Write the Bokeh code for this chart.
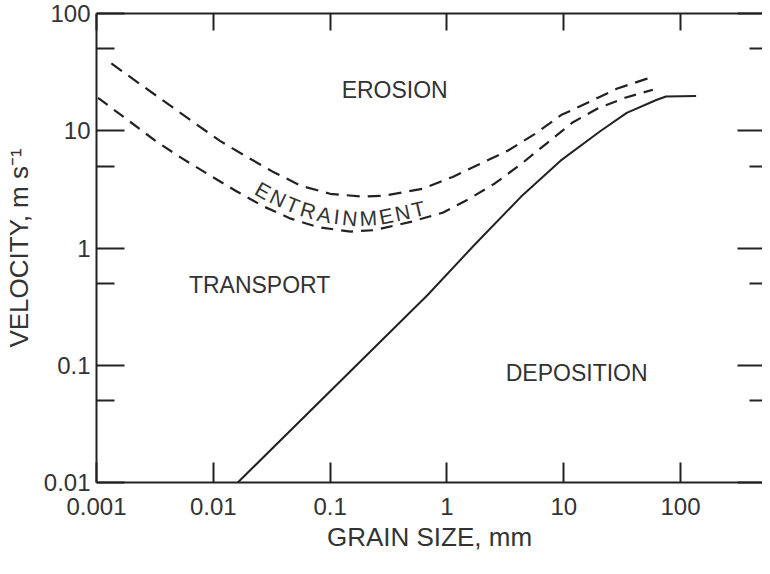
import numpy as np
from bokeh.plotting import figure
from bokeh.models import Range1d, LogAxis, FixedTicker, CustomJSTickFormatter
from bokeh.core.properties import value
from bokeh.embed import file_html
from bokeh.resources import INLINE

# ---- data ----
x_ticks = [0.001, 0.01, 0.1, 1, 10, 100]
y_ticks = [0.01, 0.1, 1, 10, 100]
y_minor = [0.05, 0.5, 5, 50]

# deposition boundary (solid)
deposition_grain = [0.0162, 0.68, 1.7, 4.3, 9.4, 20.5, 34.6, 62, 75, 136]
deposition_vel = [0.01, 0.395, 1.05, 2.73, 5.56, 9.9, 14.2, 18.3, 19.6, 19.8]

# erosion boundary (upper dashed)
erosion_grain = [0.00134, 0.0025, 0.0045, 0.0067, 0.0114, 0.0193, 0.032, 0.056, 0.1,
                 0.19, 0.294, 0.622, 1.12, 1.98, 3.34, 5.63, 9.48, 16.6, 28.4, 51, 58]
erosion_vel = [37.5, 24, 15.8, 11.9, 8.2, 6.0, 4.5, 3.4, 2.9,
               2.74, 2.8, 3.2, 4.04, 5.3, 6.78, 9.35, 13.6, 17.6, 22.8, 27.7, 28.3]

# entrainment lower boundary (lower dashed)
entrain_grain = [0.00103, 0.00188, 0.0032, 0.005, 0.009, 0.0155, 0.027, 0.046, 0.08, 0.15,
                 0.24, 0.5, 0.92, 1.52, 2.57, 4.28, 7.2, 11.8, 19.5, 33.5, 58]
entrain_vel = [19.1, 12.2, 8.2, 6.1, 4.26, 3.08, 2.26, 1.78, 1.5, 1.38,
               1.42, 1.68, 2.0, 2.6, 3.55, 5.17, 7.85, 11.7, 15.5, 19.1, 22.4]

region_labels = ["EROSION", "TRANSPORT", "DEPOSITION"]
region_grain = [0.357, 0.0249, 12.9]
region_vel = [22.3, 0.479, 0.0853]

entrain_word = "ENTRAINMENT"
entrain_span = [0.0266, 0.57]
letter_em = [0.667, 0.722, 0.611, 0.722, 0.667, 0.278, 0.722, 0.833, 0.667, 0.722, 0.611]

# ---- figure ----
FONT = "Liberation Sans"
TXT = "#333333"
INK = "#222222"
W, H = 762, 566
BL, BR, BT, BB = 92, 0, 13, 84
x_lo, x_hi = 0.001, 503
y_lo, y_hi = 0.01, 100

p = figure(width=W, height=H, x_axis_type="log", y_axis_type="log",
           x_range=Range1d(x_lo, x_hi), y_range=Range1d(y_lo, y_hi),
           output_backend="svg", toolbar_location=None,
           min_border_left=BL, min_border_right=BR, min_border_top=BT, min_border_bottom=BB)
p.grid.visible = False
p.outline_line_color = None
p.background_fill_color = "white"
p.border_fill_color = "white"

fmt = CustomJSTickFormatter(code="return tick.toString();")

xa = p.xaxis[0]
xa.ticker = FixedTicker(ticks=x_ticks, minor_ticks=[])
xa.formatter = fmt
xa.major_tick_in = 20
xa.major_tick_out = 0
xa.minor_tick_in = 0
xa.minor_tick_out = 0
xa.axis_line_width = 2
xa.axis_line_color = INK
xa.major_tick_line_width = 2
xa.major_tick_line_color = INK
xa.major_label_standoff = 15
xa.major_label_text_font = FONT
xa.major_label_text_font_size = "24px"
xa.major_label_text_color = TXT
xa.axis_label = "GRAIN SIZE, mm"
xa.axis_label_text_font = FONT
xa.axis_label_text_font_size = "26px"
xa.axis_label_text_font_style = "normal"
xa.axis_label_text_color = TXT
xa.axis_label_standoff = 4

ya = p.yaxis[0]
ya.ticker = FixedTicker(ticks=y_ticks, minor_ticks=y_minor)
ya.formatter = fmt
ya.major_tick_in = 28
ya.major_tick_out = 0
ya.minor_tick_in = 18
ya.minor_tick_out = 0
ya.axis_line_width = 2
ya.axis_line_color = INK
ya.major_tick_line_width = 2
ya.major_tick_line_color = INK
ya.minor_tick_line_width = 2
ya.minor_tick_line_color = INK
ya.major_label_standoff = 6
ya.major_label_text_font = FONT
ya.major_label_text_font_size = "24px"
ya.major_label_text_color = TXT
ya.axis_label = "VELOCITY, m s\u207b\u00b9"
ya.axis_label_text_font = FONT
ya.axis_label_text_font_size = "26px"
ya.axis_label_text_font_style = "normal"
ya.axis_label_text_color = TXT
ya.axis_label_standoff = 7

blank = CustomJSTickFormatter(code="return '';")
top = LogAxis(ticker=FixedTicker(ticks=x_ticks, minor_ticks=[]), formatter=blank,
              major_tick_in=17, major_tick_out=0, minor_tick_in=0, minor_tick_out=0,
              major_label_text_font_size="0px", major_label_standoff=0,
              axis_line_width=2, axis_line_color=INK,
              major_tick_line_width=2, major_tick_line_color=INK)
p.add_layout(top, "above")

right = LogAxis(ticker=FixedTicker(ticks=y_ticks, minor_ticks=y_minor), formatter=blank,
                major_tick_in=25, major_tick_out=0, minor_tick_in=13, minor_tick_out=0,
                major_label_text_font_size="0px", major_label_standoff=0,
                axis_line_color=None,
                major_tick_line_width=2, major_tick_line_color=INK,
                minor_tick_line_width=2, minor_tick_line_color=INK)
p.add_layout(right, "right")

# ---- curves ----
p.line(deposition_grain, deposition_vel, line_width=2, line_color=INK)
p.line(erosion_grain, erosion_vel, line_width=2.2, line_color=INK, line_dash="13 8")
p.line(entrain_grain, entrain_vel, line_width=2.2, line_color=INK, line_dash="12 8")

# ---- region labels ----
p.text(x=region_grain, y=region_vel, text=region_labels,
       text_font=value(FONT), text_font_size="23px", text_color=TXT,
       text_align="center", text_baseline="middle")

# ---- curved "ENTRAINMENT" between the two dashed curves ----
fw = W - BL - BR
fh = H - BT - BB
ppx = fw / (np.log10(x_hi) - np.log10(x_lo))
ppy = fh / (np.log10(y_hi) - np.log10(y_lo))

lx_e, lv_e = np.log10(erosion_grain), np.log10(erosion_vel)
lx_n, lv_n = np.log10(entrain_grain), np.log10(entrain_vel)


def mid_curve(lx):
    return (np.interp(lx, lx_e, lv_e) + np.interp(lx, lx_n, lv_n)) / 2 - 4.5 / ppy


fine = np.linspace(np.log10(entrain_span[0]), np.log10(entrain_span[1]), 400)
mf = mid_curve(fine)
seg = np.hypot(np.diff(fine) * ppx, np.diff(mf) * ppy)
arc = np.concatenate([[0], np.cumsum(seg)])
adv = np.array(letter_em) + 0.18
cent = np.cumsum(adv) - adv / 2
cent = (cent - cent[0]) / (cent[-1] - cent[0]) * arc[-1]
ld = np.interp(cent, arc, fine)
lm = mid_curve(ld)
wide = np.linspace(fine[0] - 0.1, fine[-1] + 0.1, 600)
slope = np.interp(ld, wide, np.gradient(mid_curve(wide), wide))
angles = np.arctan(slope * ppy / ppx)

p.text(x=list(10 ** ld), y=list(10 ** lm), text=list(entrain_word), angle=list(angles),
       text_font=value(FONT), text_font_size="21px", text_color=TXT,
       text_align="center", text_baseline="middle")

open("out.html", "w").write(file_html(p, INLINE))
